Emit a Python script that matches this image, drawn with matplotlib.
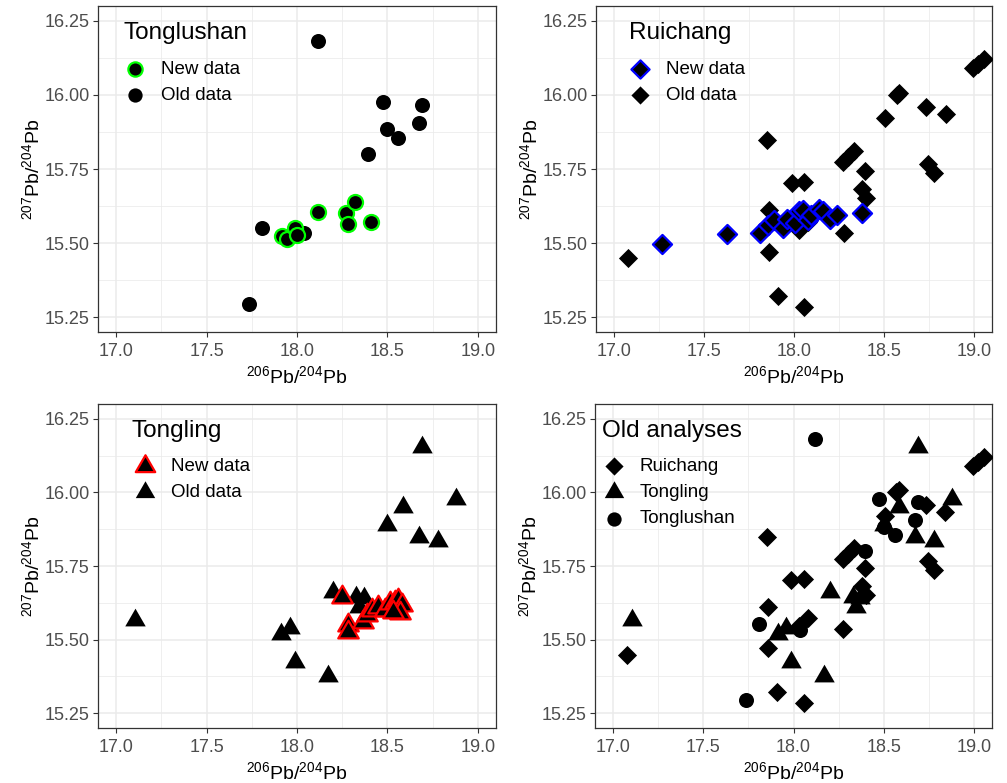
import matplotlib
matplotlib.use("Agg")
import matplotlib.pyplot as plt
from matplotlib.path import Path
import numpy as np

plt.rcParams['font.family'] = ['Liberation Sans', 'DejaVu Sans']
plt.rcParams['mathtext.default'] = 'regular'

# ---- data ----
# Tonglushan
tls_old_x = [18.118, 18.473, 18.692, 18.499, 18.560, 18.672, 18.394, 17.808, 17.737, 18.037]
tls_old_y = [16.181, 15.977, 15.966, 15.884, 15.856, 15.905, 15.801, 15.552, 15.295, 15.534]
tls_new_x = [17.919, 17.943, 17.989, 18.000, 18.118, 18.271, 18.280, 18.322, 18.409]
tls_new_y = [15.523, 15.515, 15.551, 15.526, 15.604, 15.603, 15.566, 15.637, 15.571]

# Ruichang
rc_old_x = [17.077, 17.851, 17.861, 17.861, 17.911, 18.056, 17.988, 18.056, 18.030, 18.080,
            18.277, 18.274, 18.300, 18.334, 18.396, 18.379, 18.400, 18.570, 18.585, 18.506,
            18.736, 18.842, 18.745, 18.777, 18.992, 19.020, 19.057]
rc_old_y = [15.449, 15.848, 15.612, 15.470, 15.322, 15.285, 15.702, 15.706, 15.545, 15.572,
            15.535, 15.775, 15.790, 15.812, 15.743, 15.683, 15.652, 16.000, 16.008, 15.921,
            15.958, 15.934, 15.768, 15.735, 16.090, 16.104, 16.121]
rc_new_x = [17.267, 17.626, 17.810, 17.858, 17.889, 17.940, 17.962, 18.008, 18.027, 18.052,
            18.078, 18.093, 18.137, 18.159, 18.201, 18.238, 18.376]
rc_new_y = [15.498, 15.529, 15.535, 15.560, 15.577, 15.551, 15.582, 15.568, 15.608, 15.610,
            15.577, 15.594, 15.616, 15.608, 15.580, 15.594, 15.603]

# Tongling
tl_old_x = [17.105, 18.689, 18.880, 18.584, 18.500, 18.673, 18.779, 18.200, 18.328, 18.370,
            18.344, 17.914, 17.960, 17.987, 18.170]
tl_old_y = [15.566, 16.154, 15.979, 15.949, 15.890, 15.849, 15.835, 15.662, 15.645, 15.640,
            15.611, 15.518, 15.538, 15.425, 15.378]
tl_new_x = [18.250, 18.280, 18.280, 18.363, 18.385, 18.413, 18.449, 18.486, 18.514, 18.541,
            18.560, 18.578, 18.569, 18.532]
tl_new_y = [15.645, 15.549, 15.527, 15.560, 15.583, 15.600, 15.611, 15.600, 15.623, 15.628,
            15.634, 15.617, 15.589, 15.594]

x_ticks = [17.0, 17.5, 18.0, 18.5, 19.0]
y_ticks = [15.25, 15.50, 15.75, 16.00, 16.25]

# equilateral triangle like ggplot's
tri = Path([(0, 1), (-0.866, -0.5), (0.866, -0.5), (0, 1)],
           [Path.MOVETO, Path.LINETO, Path.LINETO, Path.CLOSEPOLY])

S_CIRC = 117
S_DIAM = 95
S_TRI = 290

W, H = 1007, 783
fig = plt.figure(figsize=(W / 100, H / 100), dpi=100)


def make_ax(l, r, t, b):
    ax = fig.add_axes([l / W, 1 - b / H, (r - l) / W, (b - t) / H])
    ax.set_xlim(16.9, 19.1)
    ax.set_ylim(15.2, 16.3)
    ax.set_xticks(x_ticks)
    ax.set_xticklabels(['%.1f' % v for v in x_ticks])
    ax.set_yticks(y_ticks)
    ax.set_yticklabels(['%.2f' % v for v in y_ticks])
    ax.set_xticks(np.arange(17.25, 19.1, 0.5), minor=True)
    ax.set_yticks(np.arange(15.375, 16.3, 0.25), minor=True)
    ax.grid(which='major', color='#EBEBEB', lw=1.1)
    ax.grid(which='minor', color='#EBEBEB', lw=0.55)
    ax.set_axisbelow(True)
    ax.tick_params(which='major', length=3.5, width=0.8, color='#333333',
                   labelcolor='#4D4D4D', labelsize=13, pad=2.5)
    ax.tick_params(axis='x', which='major', pad=4.5)
    ax.tick_params(which='minor', length=0)
    for sp in ax.spines.values():
        sp.set_color('#333333')
        sp.set_linewidth(0.9)
    ax.set_xlabel('$^{206}$Pb/$^{204}$Pb', fontsize=14, labelpad=4)
    ax.set_ylabel('$^{207}$Pb/$^{204}$Pb', fontsize=14, labelpad=1)
    return ax


def add_legend(ax, handles, labels, title, tx, lx):
    ax.text(tx, 0.899, title, transform=ax.transAxes, fontsize=17.5, va='baseline', ha='left')
    ax.legend(handles, labels, loc='upper left', bbox_to_anchor=(lx, 0.833), frameon=False,
              fontsize=13.5, borderpad=0, borderaxespad=0, handlelength=1.25,
              handletextpad=0.75, labelspacing=0.48, scatterpoints=1, markerscale=0.95)


# Tonglushan
ax1 = make_ax(98, 496, 6, 332)
h_old = ax1.scatter(tls_old_x, tls_old_y, s=S_CIRC, marker='o', c='black', lw=0, zorder=3)
h_new = ax1.scatter(tls_new_x, tls_new_y, s=S_CIRC, marker='o', c='black',
                    edgecolors='#00FF00', lw=1.6, zorder=4)
add_legend(ax1, [h_new, h_old], ['New data', 'Old data'], 'Tonglushan', 0.063, 0.064)

# Ruichang
ax2 = make_ax(596, 992, 6, 332)
h_old = ax2.scatter(rc_old_x, rc_old_y, s=S_DIAM, marker='D', c='black', lw=0, zorder=3)
h_new = ax2.scatter(rc_new_x, rc_new_y, s=S_DIAM, marker='D', c='black',
                    edgecolors='#0000FF', lw=1.6, zorder=4)
add_legend(ax2, [h_new, h_old], ['New data', 'Old data'], 'Ruichang', 0.083, 0.082)

# Tongling
ax3 = make_ax(98, 496, 404, 728)
h_old = ax3.scatter(tl_old_x, tl_old_y, s=S_TRI, marker=tri, c='black', lw=0, zorder=3)
h_new = ax3.scatter(tl_new_x, tl_new_y, s=S_TRI, marker=tri, c='black',
                    edgecolors='#FF0000', lw=1.6, zorder=4)
add_legend(ax3, [h_new, h_old], ['New data', 'Old data'], 'Tongling', 0.085, 0.089)

# Old analyses
ax4 = make_ax(595, 992, 404, 728)
h_rc = ax4.scatter(rc_old_x, rc_old_y, s=S_DIAM, marker='D', c='black', lw=0, zorder=3)
h_tl = ax4.scatter(tl_old_x, tl_old_y, s=S_TRI, marker=tri, c='black', lw=0, zorder=3)
h_tls = ax4.scatter(tls_old_x, tls_old_y, s=S_CIRC, marker='o', c='black', lw=0, zorder=3)
add_legend(ax4, [h_rc, h_tl, h_tls], ['Ruichang', 'Tongling', 'Tonglushan'],
           'Old analyses', 0.018, 0.018)

fig.savefig('out.png', dpi=100, facecolor='white')
